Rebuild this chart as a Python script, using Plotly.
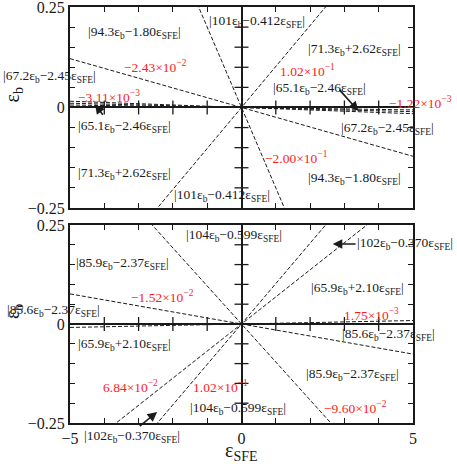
import plotly.graph_objects as go

# slopes of the phase boundaries (eps_b = m * eps_SFE)
top_slopes = [1.02e-1, -2.00e-1, -2.43e-2, -3.11e-3, -2.1e-3, -1.22e-3]
bot_slopes = [1.02e-1, 6.84e-2, -9.60e-2, -1.52e-2, 1.75e-3]

# region labels: (text, x, y)
top_regions = [
    ("|94.3ε<sub>b</sub>−1.80ε<sub>SFE</sub>|", -3.12, 0.186),
    ("|101ε<sub>b</sub>−0.412ε<sub>SFE</sub>|", 0.44, 0.213),
    ("|71.3ε<sub>b</sub>+2.62ε<sub>SFE</sub>|", 3.28, 0.143),
    ("|65.1ε<sub>b</sub>−2.46ε<sub>SFE</sub>|", 2.26, 0.048),
    ("|67.2ε<sub>b</sub>−2.45ε<sub>SFE</sub>|", -5.61, 0.076),
    ("|65.1ε<sub>b</sub>−2.46ε<sub>SFE</sub>|", -3.40, -0.0485),
    ("|71.3ε<sub>b</sub>+2.62ε<sub>SFE</sub>|", -3.40, -0.165),
    ("|101ε<sub>b</sub>−0.412ε<sub>SFE</sub>|", -0.57, -0.219),
    ("|67.2ε<sub>b</sub>−2.45ε<sub>SFE</sub>|", 4.27, -0.0525),
    ("|94.3ε<sub>b</sub>−1.80ε<sub>SFE</sub>|", 3.28, -0.1775),
]
top_slope_labels = [
    ("1.02×10<sup>−1</sup>", 1.91, 0.093),
    ("−1.22×10<sup>−3</sup>", 5.23, 0.0125),
    ("−2.43×10<sup>−2</sup>", -2.52, 0.1015),
    ("−3.11×10<sup>−3</sup>", -3.87, 0.0265),
    ("−2.00×10<sup>−1</sup>", 1.59, -0.1235),
]
bot_regions = [
    ("|104ε<sub>b</sub>−0.599ε<sub>SFE</sub>|", -0.22, 0.224),
    ("|102ε<sub>b</sub>−0.370ε<sub>SFE</sub>|", 4.78, 0.203),
    ("|85.9ε<sub>b</sub>−2.37ε<sub>SFE</sub>|", -3.47, 0.153),
    ("|85.6ε<sub>b</sub>−2.37ε<sub>SFE</sub>|", -5.47, 0.035),
    ("|65.9ε<sub>b</sub>+2.10ε<sub>SFE</sub>|", 3.38, 0.090),
    ("|85.6ε<sub>b</sub>−2.37ε<sub>SFE</sub>|", 4.30, -0.026),
    ("|65.9ε<sub>b</sub>+2.10ε<sub>SFE</sub>|", -3.40, -0.053),
    ("|104ε<sub>b</sub>−0.599ε<sub>SFE</sub>|", -0.10, -0.214),
    ("|85.9ε<sub>b</sub>−2.37ε<sub>SFE</sub>|", 3.24, -0.128),
    ("|102ε<sub>b</sub>−0.370ε<sub>SFE</sub>|", -3.19, -0.285),
]
bot_slope_labels = [
    ("−1.52×10<sup>−2</sup>", -2.29, 0.069),
    ("1.75×10<sup>−3</sup>", 3.78, 0.0245),
    ("6.84×10<sup>−2</sup>", -3.24, -0.158),
    ("1.02×10<sup>−1</sup>", -0.60, -0.158),
    ("−9.60×10<sup>−2</sup>", 3.31, -0.212),
]
# arrows: (panel, tail_x, tail_y, tip_x, tip_y)
arrows = [
    (1, -4.01, -0.022, -4.27, 0.008),
    (1, 2.82, 0.0475, 3.41, -0.009),
    (2, 3.37, 0.2018, 2.66, 0.2018),
    (2, -3.01, -0.261, -2.46, -0.222),
]

x_minor = [-4, -3, -2, -1, 1, 2, 3, 4]
y_minor = [-0.2, -0.15, -0.1, -0.05, 0.05, 0.1, 0.15, 0.2]

XR = (-5, 5)
YR = (-0.25, 0.25)

FONT = "Liberation Serif"
INK = "#1a1a1a"
RED = "#ff1a1a"
LABEL_SIZE = 13.5


def dom_x(v):
    return (v - XR[0]) / (XR[1] - XR[0])


def dom_y(v):
    return (v - YR[0]) / (YR[1] - YR[0])


fig = go.Figure()

for panel, slopes in ((1, top_slopes), (2, bot_slopes)):
    xa = "x" if panel == 1 else "x2"
    ya = "y" if panel == 1 else "y2"
    for m in slopes:
        fig.add_trace(go.Scatter(x=[XR[0], XR[1]], y=[XR[0] * m, XR[1] * m], mode="lines",
                                 line=dict(color=INK, width=1, dash="4px,2px"),
                                 xaxis=xa, yaxis=ya, showlegend=False, hoverinfo="skip"))
    # cross ticks on the zero lines
    fig.add_trace(go.Scatter(x=x_minor, y=[0] * len(x_minor), mode="markers",
                             marker=dict(symbol="line-ns", size=10, line=dict(color=INK, width=1.3)),
                             xaxis=xa, yaxis=ya, showlegend=False, hoverinfo="skip"))
    fig.add_trace(go.Scatter(x=[0] * len(y_minor), y=y_minor, mode="markers",
                             marker=dict(symbol="line-ew", size=10, line=dict(color=INK, width=1.3)),
                             xaxis=xa, yaxis=ya, showlegend=False, hoverinfo="skip"))

annotations = []
for panel, regions, slabels in ((1, top_regions, top_slope_labels), (2, bot_regions, bot_slope_labels)):
    xr = "x domain" if panel == 1 else "x2 domain"
    yr = "y domain" if panel == 1 else "y2 domain"
    for text, x, y in regions:
        annotations.append(dict(text=text, x=dom_x(x), y=dom_y(y), xref=xr, yref=yr, showarrow=False,
                                xanchor="center", yanchor="middle",
                                font=dict(family=FONT, size=LABEL_SIZE, color=INK)))
    for text, x, y in slabels:
        annotations.append(dict(text=text, x=dom_x(x), y=dom_y(y), xref=xr, yref=yr, showarrow=False,
                                xanchor="center", yanchor="middle",
                                font=dict(family=FONT, size=LABEL_SIZE, color=RED)))

for panel, tx, ty, hx, hy in arrows:
    xr = "x" if panel == 1 else "x2"
    yr = "y" if panel == 1 else "y2"
    annotations.append(dict(x=hx, y=hy, ax=tx, ay=ty, xref=xr, yref=yr, axref=xr, ayref=yr,
                            text="", showarrow=True, arrowhead=2, arrowsize=1.2,
                            arrowwidth=1.6, arrowcolor=INK))

# axis titles
for yr in ("y domain", "y2 domain"):
    annotations.append(dict(text="ε<sub>b</sub>", xref="paper", yref=yr, x=0, y=0.56,
                            xshift=-57, showarrow=False, textangle=-90,
                            xanchor="center", yanchor="middle",
                            font=dict(family=FONT, size=20, color=INK)))
annotations.append(dict(text="ε<sub>SFE</sub>", xref="x2 domain", yref="paper", x=0.5, y=0,
                        yshift=-28, showarrow=False, xanchor="center", yanchor="middle",
                        font=dict(family=FONT, size=20, color=INK)))

axis_common = dict(showline=True, linecolor=INK, linewidth=2, mirror="ticks",
                   ticks="inside", ticklen=5, tickwidth=1.3, tickcolor=INK,
                   showgrid=False, zeroline=True, zerolinecolor=INK, zerolinewidth=2,
                   automargin=False, ticklabeloverflow="allow",
                   tickfont=dict(family=FONT, size=16, color=INK))

x_ax = dict(axis_common, range=list(XR), tickvals=[-5, 0, 5],
            minor=dict(dtick=1, ticks="inside", ticklen=5, tickwidth=1.3, tickcolor=INK))
y_ax = dict(axis_common, range=list(YR), tickvals=[-0.25, 0, 0.25],
            ticktext=["−0.25", "0", "0.25"],
            minor=dict(dtick=0.05, tick0=0, ticks="inside", ticklen=5, tickwidth=1.3, tickcolor=INK))

fig.update_layout(
    width=457, height=464,
    margin=dict(l=70, r=44, t=7, b=41),
    paper_bgcolor="white", plot_bgcolor="white",
    xaxis=dict(x_ax, anchor="y", showticklabels=False),
    yaxis=dict(y_ax, anchor="x", domain=[0.517, 1]),
    xaxis2=dict(x_ax, anchor="y2", ticktext=["−5", "0", "5"]),
    yaxis2=dict(y_ax, anchor="x2", domain=[0, 0.476]),
    annotations=annotations,
    showlegend=False,
)

fig.write_html("out.html", config={"displayModeBar": False},
               post_script="document.body.style.margin='0';")
